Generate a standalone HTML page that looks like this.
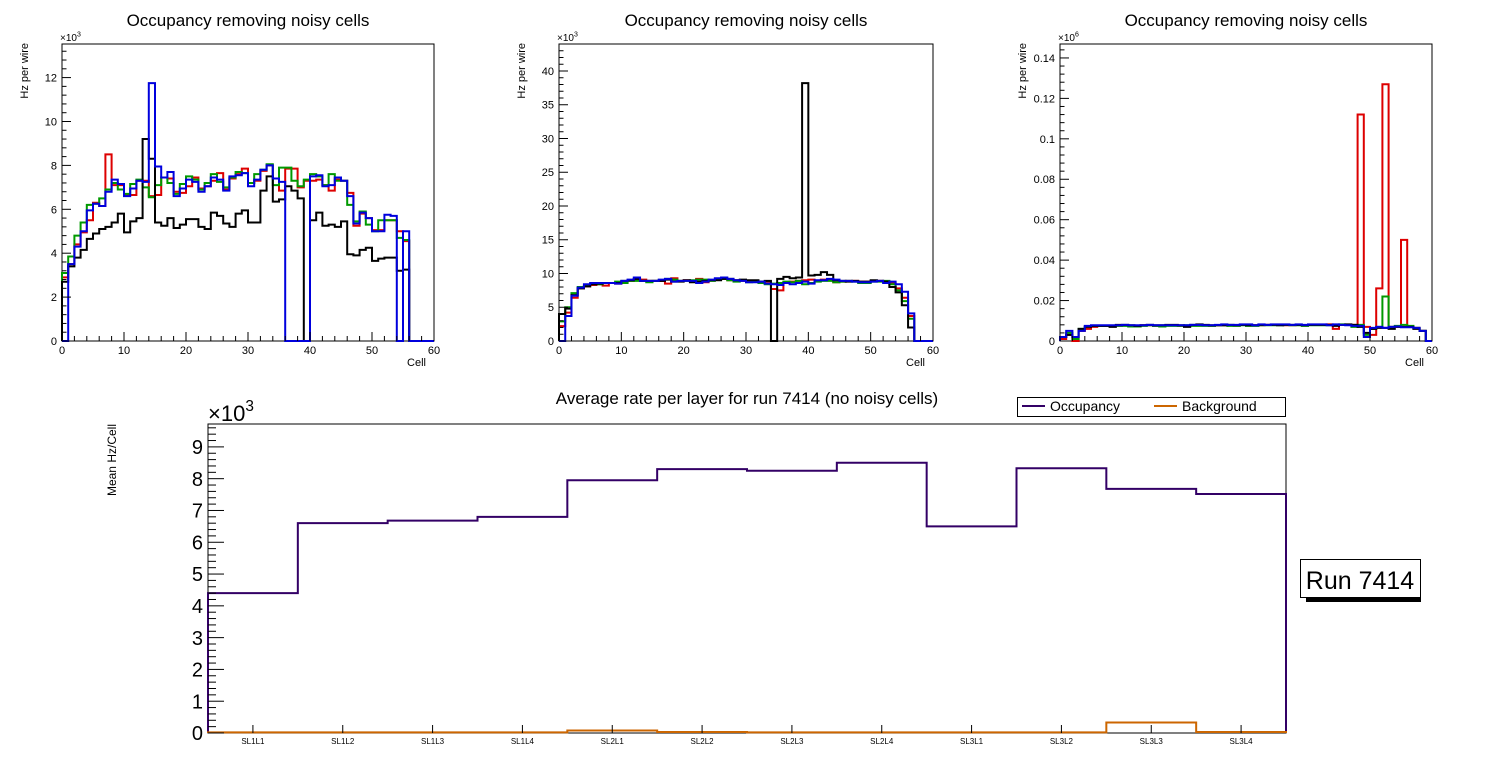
<!DOCTYPE html>
<html><head><meta charset="utf-8">
<style>
body{margin:0;background:#fff;}
svg{display:block;font-family:"Liberation Sans",sans-serif;}
</style></head>
<body>
<svg id="c" width="1496" height="772" viewBox="0 0 1496 772" xmlns="http://www.w3.org/2000/svg"></svg>
<script>
// ---- Top-left panel data (x10^3 Hz per wire) ----
const tlRed=[2.9,3.5,4.4,4.95,5.5,6.3,6.15,8.5,7.1,7.1,6.65,6.65,7.3,7.3,6.6,6.65,7.45,7.4,6.8,6.75,7.05,7.45,6.95,7.05,7.3,7.65,6.9,7.4,7.6,7.85,7.2,7.3,7.75,8.0,7.4,6.85,7.85,7.85,7.0,7.3,7.3,7.35,7.1,6.85,7.35,7.3,6.75,5.25,5.8,5.6,5.05,5.05,5.5,5.5,5.0,4.55,0,0,0,0];
const tlGreen=[3.1,3.85,4.8,5.4,6.2,6.25,6.5,6.9,7.2,6.9,6.7,7.15,7.35,7.0,6.55,7.1,7.45,7.2,6.7,7.15,7.5,7.35,6.9,7.2,7.6,7.25,7.0,7.45,7.7,7.65,7.2,7.6,7.8,8.05,7.1,7.9,7.9,7.3,7.05,7.35,7.6,7.5,7.1,7.6,7.3,7.3,6.2,5.45,5.9,5.3,5.0,5.5,5.5,5.5,4.7,4.6,0,0,0,0];
const tlBlack=[2.7,3.4,3.8,4.15,4.65,4.9,5.1,5.2,5.4,5.8,4.95,5.45,5.6,9.2,8.3,5.4,5.25,5.6,5.15,5.3,5.55,5.55,5.2,5.1,5.85,5.7,5.35,5.2,5.8,5.95,5.4,5.4,6.85,7.5,6.35,6.45,7.05,6.85,6.5,0,5.5,5.85,5.25,5.3,5.2,5.45,3.95,3.9,4.15,4.25,3.65,3.75,3.8,3.8,3.2,3.25,0,0,0,0];
const tlBlue=[0,3.5,4.3,5.0,5.95,6.25,6.15,6.8,7.35,7.15,6.6,6.95,7.3,7.25,11.75,7.95,7.45,7.7,6.6,6.95,7.35,7.25,6.8,7.05,7.45,7.35,6.85,7.5,7.55,7.65,7.05,7.35,7.8,8.0,7.4,7.25,0,0,0,0,7.5,7.55,7.05,7.1,7.45,7.3,6.6,5.35,5.85,5.6,5.0,5.0,5.75,5.7,0,5.0,0,0,0,0];
// ---- Top-middle panel data ----
const tmRed=[2.2,4.2,6.4,7.8,8.1,8.3,8.4,8.2,8.6,8.5,8.7,8.9,9.2,9.1,8.9,8.9,8.9,8.5,9.3,8.9,9.0,8.9,9.2,8.7,9.0,9.1,9.3,9.0,9.0,8.9,8.8,8.8,8.8,8.8,7.7,7.5,8.7,8.8,8.9,9.0,9.1,8.9,9.1,9.0,8.7,8.8,8.9,8.9,8.8,8.8,8.9,8.9,8.8,8.6,7.8,6.4,3.7,0,0,0];
const tmGreen=[2.9,5.0,7.1,8.0,8.2,8.5,8.4,8.6,8.6,8.8,8.6,8.9,8.9,8.9,8.7,8.9,9.0,9.2,9.1,8.9,8.9,9.0,9.1,9.1,8.9,9.1,9.2,9.0,8.8,9.0,8.7,8.8,8.6,8.4,8.5,8.6,8.8,8.7,8.9,8.4,8.6,8.8,8.9,8.9,8.7,8.8,8.9,8.8,8.6,8.6,8.8,8.8,8.9,8.4,7.5,5.9,3.3,0,0,0];
const tmBlack=[4.0,4.8,6.8,7.8,8.1,8.4,8.5,8.6,8.6,8.6,8.9,9.0,9.2,8.9,8.9,8.9,8.9,9.1,8.8,8.8,9.0,8.7,8.8,8.9,9.0,9.0,9.2,9.2,9.0,9.1,9.0,9.0,8.8,8.9,0,9.2,9.5,9.3,9.4,38.2,9.7,9.8,10.2,9.8,9.0,8.9,8.8,8.9,8.8,8.8,9.0,8.9,8.8,8.0,7.2,5.3,2.0,0,0,0];
const tmBlue=[0,3.7,6.7,7.9,8.4,8.6,8.6,8.6,8.6,8.5,8.9,9.1,9.4,8.9,8.9,8.9,9.1,9.2,8.8,8.9,8.9,8.9,8.6,8.8,9.1,9.3,9.4,9.2,9.0,8.9,8.7,8.7,8.8,8.5,8.4,8.3,8.6,8.4,8.6,8.8,8.5,9.0,9.0,9.2,9.1,8.9,8.9,8.8,8.7,8.7,8.8,8.9,8.6,8.8,8.4,7.3,4.1,0,0,0];
// ---- Top-right panel data (x10^6) ----
const trRed=[0.001,0.003,0,0.005,0.006,0.007,0.0075,0.0075,0.0075,0.0075,0.0078,0.0075,0.0072,0.0078,0.0078,0.0075,0.0075,0.0078,0.0078,0.0075,0.0075,0.0078,0.008,0.0078,0.0075,0.0078,0.0078,0.0078,0.0078,0.008,0.0078,0.0078,0.0078,0.008,0.008,0.008,0.0078,0.0078,0.008,0.0078,0.008,0.008,0.008,0.0082,0.006,0.008,0.008,0.008,0.112,0.007,0.003,0.026,0.127,0.007,0.007,0.05,0.007,0.0065,0.005,0];
const trGreen=[0.002,0.004,0.001,0.006,0.0072,0.0075,0.0075,0.0075,0.0072,0.0075,0.0075,0.0072,0.0072,0.0075,0.0078,0.0075,0.0072,0.0075,0.0075,0.0075,0.0078,0.0075,0.0075,0.0075,0.0075,0.0078,0.0078,0.0075,0.0075,0.0078,0.0075,0.0075,0.0078,0.0078,0.0078,0.0078,0.008,0.0078,0.0078,0.0075,0.0078,0.0078,0.0078,0.0078,0.008,0.0082,0.008,0.007,0.008,0.003,0.006,0.007,0.022,0.007,0.0075,0.008,0.0075,0.0065,0.005,0];
const trBlack=[0.002,0.003,0.002,0.006,0.007,0.0075,0.0075,0.0075,0.007,0.008,0.008,0.0078,0.0075,0.0078,0.008,0.0078,0.0078,0.008,0.008,0.0078,0.007,0.008,0.0082,0.008,0.0078,0.0078,0.0078,0.008,0.0078,0.008,0.0078,0.0078,0.008,0.008,0.008,0.0078,0.008,0.008,0.008,0.0078,0.008,0.008,0.008,0.008,0.0075,0.008,0.0082,0.008,0.007,0.004,0.006,0.0065,0.0065,0.006,0.007,0.007,0.007,0.006,0.005,0];
const trBlue=[0.002,0.005,0.002,0.005,0.0075,0.0078,0.0078,0.0078,0.0078,0.0078,0.008,0.0078,0.0078,0.0078,0.008,0.0078,0.0078,0.0078,0.0078,0.0078,0.0078,0.008,0.008,0.0078,0.0078,0.008,0.0082,0.008,0.008,0.0082,0.0082,0.0078,0.0082,0.008,0.0082,0.0082,0.0082,0.008,0.0082,0.008,0.0082,0.0082,0.0082,0.0078,0.0082,0.008,0.0078,0.0075,0.0075,0.002,0.0065,0.007,0.0065,0.007,0.0072,0.0068,0.0068,0.0065,0.005,0];
// ---- Bottom panel data (x10^3 Mean Hz/Cell) ----
const layers=["SL1L1","SL1L2","SL1L3","SL1L4","SL2L1","SL2L2","SL2L3","SL2L4","SL3L1","SL3L2","SL3L3","SL3L4"];
const occupancy=[4.4,6.6,6.68,6.8,7.95,8.3,8.25,8.5,6.5,8.33,7.68,7.52];
const background=[0.02,0.02,0.02,0.02,0.08,0.03,0.02,0.02,0.02,0.02,0.33,0.03];
const tlTicks=[0,2,4,6,8,10,12], tmTicks=[0,5,10,15,20,25,30,35,40], trTicks=[0,0.02,0.04,0.06,0.08,0.1,0.12,0.14];
const bTicks=[0,1,2,3,4,5,6,7,8,9];

const NS="http://www.w3.org/2000/svg";
const svg=document.getElementById('c');
function el(tag,attrs,parent){const e=document.createElementNS(NS,tag);for(const k in attrs)e.setAttribute(k,attrs[k]);(parent||svg).appendChild(e);return e;}
function txt(s,attrs,parent){const e=el('text',attrs,parent);e.textContent=s;return e;}

function panel(p){
  const g=el('g',{});
  
  
  const sx=v=>p.x0+(v-p.xmin)/(p.xmax-p.xmin)*(p.x1-p.x0);
  const sy=v=>p.y1-(v-p.ymin)/(p.ymax-p.ymin)*(p.y1-p.y0);
  const fr=el('rect',{x:p.x0,y:p.y0,width:p.x1-p.x0,height:p.y1-p.y0,fill:'none',stroke:'#000','stroke-width':1},g);
  
  
  p.series.forEach(s=>{
    const n=s.data.length,bw=(p.xmax-p.xmin)/n;
    let d='M'+sx(p.xmin)+','+sy(0);
    for(let i=0;i<n;i++){const y=sy(Math.min(s.data[i],p.ymax));d+=' L'+sx(p.xmin+i*bw)+','+y+' L'+sx(p.xmin+(i+1)*bw)+','+y;}
    d+=' L'+sx(p.xmax)+','+sy(0);
    const path=el('path',{d:d,fill:'none',stroke:s.color,'stroke-width':s.w||2},g);
    
    
  });
  if(p.xt){
    for(let v=p.xmin;v<=p.xmax+1e-9;v+=p.xminor){const X=sx(v),maj=Math.abs(v/p.xmajor-Math.round(v/p.xmajor))<1e-6;el('line',{x1:X,x2:X,y1:p.y1,y2:p.y1-(maj?9:5),stroke:'#000'},g);}
    for(let v=p.xmin;v<=p.xmax+1e-9;v+=p.xmajor){const t=txt(String(v),{x:sx(v),y:p.y1+13,'font-size':11,'text-anchor':'middle'},g);}
    const xt=txt('Cell',{x:p.x1-8,y:p.y1+25,'font-size':11,'text-anchor':'end'},g);
    
  }
  const ys=p.ymajor/p.ynminor;
  for(let k=0;p.ymin+k*ys<=p.ymax+1e-9;k++){const v=p.ymin+k*ys,Y=sy(v),maj=k%p.ynminor===0;el('line',{x1:p.x0,x2:p.x0+(maj?p.ytl:p.ytl/2),y1:Y,y2:Y,stroke:'#000'},g);}
  p.yticks.forEach(v=>{const lab=String(v);const t=txt(lab,{x:p.x0-5,y:sy(v)+p.yfs*0.36,'font-size':p.yfs,'text-anchor':'end'},g);});
  const ex=txt('',{x:p.x0+(p.expdx||0),y:p.y0-3,'font-size':p.expfs},g);
  
  ex.innerHTML='×10<tspan dy="-'+(p.expfs*0.45)+'" font-size="'+(p.expfs*0.7)+'">'+p.exp+'</tspan>';
  const yt=txt(p.ytitle,{x:p.ytx,y:p.yty,'font-size':p.ytfs,'text-anchor':'end',transform:'rotate(-90 '+p.ytx+' '+p.yty+')'},g);
  
  const tt=txt(p.title,{x:p.tx,y:p.ty,'font-size':p.tfs,'text-anchor':'middle'},g);
  
  return {g,sx,sy};
}
const cols={r:'#dd0000',g:'#009900',k:'#000',b:'#0000dd'};
function four(R,G,K,B){return [{name:'series-red',data:R,color:cols.r},{name:'series-green',data:G,color:cols.g},{name:'series-black',data:K,color:cols.k},{name:'series-blue',data:B,color:cols.b}];}
const tops=[
 {name:'occupancy-panel-1',x0:62,x1:434,ymax:13.53,ymajor:2,yticks:tlTicks,series:four(tlRed,tlGreen,tlBlack,tlBlue),exp:'3',tx:248},
 {name:'occupancy-panel-2',x0:559,x1:933,ymax:44,ymajor:5,yticks:tmTicks,series:four(tmRed,tmGreen,tmBlack,tmBlue),exp:'3',tx:746},
 {name:'occupancy-panel-3',x0:1060,x1:1432,ymax:0.1469,ymajor:0.02,yticks:trTicks,series:four(trRed,trGreen,trBlack,trBlue),exp:'6',tx:1246}
];
tops.forEach(p=>{
  Object.assign(p,{y0:44,y1:341,xmin:0,xmax:60,ymin:0,ynminor:5,xt:true,xmajor:10,xminor:2,ytl:9,yfs:11,expfs:10,expdx:-2,ytitle:'Hz per wire',ytx:p.x0-34,yty:43,ytfs:11,title:'Occupancy removing noisy cells',ty:26,tfs:17});
  panel(p);
});
const bp={name:'average-rate-panel',x0:208,x1:1286,y0:424,y1:733,xmin:0,xmax:12,ymin:0,ymax:9.72,ymajor:1,ynminor:5,ytl:16,yfs:20,yticks:bTicks,
 series:[{name:'series-occupancy',data:occupancy,color:'#330066'},{name:'series-background',data:background,color:'#cc6600'}],
 exp:'3',expfs:22,expdx:0,ytitle:'Mean Hz/Cell',ytx:116,yty:424,ytfs:12,title:'Average rate per layer for run 7414 (no noisy cells)',tx:747,ty:404,tfs:17};
const B=panel(bp);
for(let i=0;i<12;i++){el('line',{x1:B.sx(i+0.5),x2:B.sx(i+0.5),y1:733,y2:725,stroke:'#000'},B.g);}
layers.forEach((l,i)=>{const t=txt(l,{x:B.sx(i+0.5),y:744,'font-size':8,'text-anchor':'middle'},B.g);});
const lg=el('g',{});


el('rect',{x:1017.5,y:397.5,width:268,height:19,fill:'#fff',stroke:'#000'},lg);
el('line',{x1:1022,x2:1045,y1:406,y2:406,stroke:'#330066','stroke-width':2},lg);
const l1=txt('Occupancy',{x:1050,y:411,'font-size':14},lg);

el('line',{x1:1154,x2:1177,y1:406,y2:406,stroke:'#cc6600','stroke-width':2},lg);
const l2=txt('Background',{x:1182,y:411,'font-size':14},lg);

const rb=el('g',{});


el('rect',{x:1306,y:597,width:115,height:5,fill:'#000'},rb);
el('rect',{x:1300.5,y:559.5,width:120,height:38,fill:'#fff',stroke:'#000'},rb);
txt('Run 7414',{x:1360,y:589,'font-size':25,'text-anchor':'middle'},rb);
</script>
</body></html>
